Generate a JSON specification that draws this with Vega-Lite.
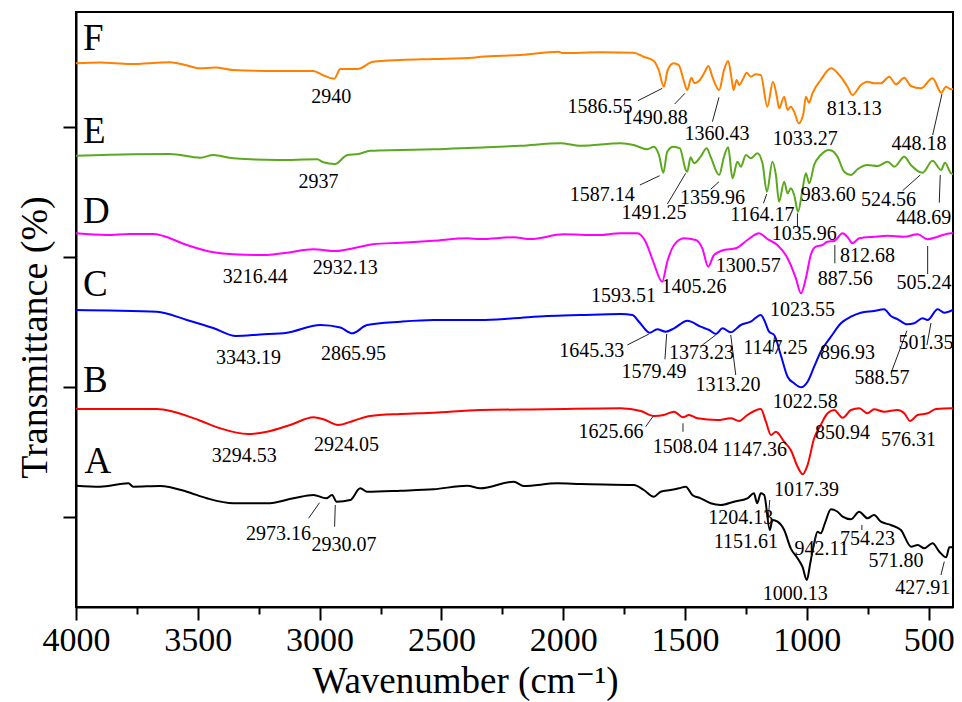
{
"$schema": "https://vega.github.io/schema/vega-lite/v6.json",
"autosize": {"type": "none"},
"padding": {"left": 76, "top": 12, "right": 9, "bottom": 95},
"width": 877,
"height": 595,
"background": "white",
"config": {"view": {"stroke": "black", "strokeWidth": 2}, "font": "'Liberation Serif', 'Times New Roman', 'DejaVu Serif', serif"},
"datasets": {
"spectra": [
{"s":"F","w":4000,"t":543.7},{"s":"F","w":3901,"t":544.5},{"s":"F","w":3778,"t":543},{"s":"F","w":3614,"t":544.7},{"s":"F","w":3552,"t":542},{"s":"F","w":3490,"t":538.7},{"s":"F","w":3429,"t":539.5},{"s":"F","w":3355,"t":537},{"s":"F","w":3174,"t":536},{"s":"F","w":3026,"t":536},{"s":"F","w":2985,"t":531.7},{"s":"F","w":2940,"t":528.3},{"s":"F","w":2915,"t":538},{"s":"F","w":2845,"t":538},{"s":"F","w":2780,"t":545.3},{"s":"F","w":2668,"t":547},{"s":"F","w":2533,"t":548},{"s":"F","w":2369,"t":549.3},{"s":"F","w":2340,"t":550.3},{"s":"F","w":2175,"t":552},{"s":"F","w":2019,"t":555.3},{"s":"F","w":2003,"t":554},{"s":"F","w":1847,"t":554.7},{"s":"F","w":1711,"t":554.3},{"s":"F","w":1670,"t":550.3},{"s":"F","w":1629,"t":546.3},{"s":"F","w":1608,"t":537},{"s":"F","w":1587,"t":520.3},{"s":"F","w":1571,"t":537},{"s":"F","w":1547,"t":543.7},{"s":"F","w":1526,"t":542},{"s":"F","w":1506,"t":527},{"s":"F","w":1491,"t":517},{"s":"F","w":1474,"t":529.3},{"s":"F","w":1461,"t":523.7},{"s":"F","w":1439,"t":527},{"s":"F","w":1422,"t":533.7},{"s":"F","w":1404,"t":541},{"s":"F","w":1388,"t":530.3},{"s":"F","w":1360,"t":517},{"s":"F","w":1340,"t":537},{"s":"F","w":1323,"t":546},{"s":"F","w":1308,"t":527},{"s":"F","w":1301,"t":517},{"s":"F","w":1288,"t":527},{"s":"F","w":1278,"t":522},{"s":"F","w":1264,"t":527},{"s":"F","w":1247,"t":534.3},{"s":"F","w":1230,"t":530.3},{"s":"F","w":1210,"t":532.7},{"s":"F","w":1189,"t":532},{"s":"F","w":1162,"t":500.3},{"s":"F","w":1139,"t":525.3},{"s":"F","w":1123,"t":510.3},{"s":"F","w":1114,"t":498.7},{"s":"F","w":1093,"t":510.3},{"s":"F","w":1079,"t":497},{"s":"F","w":1066,"t":500.3},{"s":"F","w":1052,"t":495.3},{"s":"F","w":1033,"t":483.7},{"s":"F","w":1014,"t":493.7},{"s":"F","w":1004,"t":510.3},{"s":"F","w":991,"t":504.3},{"s":"F","w":977,"t":513.7},{"s":"F","w":943,"t":527},{"s":"F","w":901,"t":538.7},{"s":"F","w":867,"t":532},{"s":"F","w":833,"t":520.3},{"s":"F","w":813,"t":512},{"s":"F","w":778,"t":522},{"s":"F","w":751,"t":525.3},{"s":"F","w":724,"t":523.7},{"s":"F","w":696,"t":523.7},{"s":"F","w":662,"t":530.3},{"s":"F","w":634,"t":522.7},{"s":"F","w":600,"t":529.3},{"s":"F","w":573,"t":521},{"s":"F","w":532,"t":518.7},{"s":"F","w":484,"t":528.7},{"s":"F","w":448,"t":514.3},{"s":"F","w":429,"t":520.3},{"s":"F","w":408,"t":517.7},{"s":"F","w":400,"t":518},
{"s":"E","w":4000,"t":451.3},{"s":"E","w":3766,"t":452.7},{"s":"E","w":3614,"t":453},{"s":"E","w":3490,"t":449.3},{"s":"E","w":3437,"t":452},{"s":"E","w":3355,"t":448.7},{"s":"E","w":3174,"t":447},{"s":"E","w":3010,"t":447.7},{"s":"E","w":2985,"t":444.7},{"s":"E","w":2937,"t":443},{"s":"E","w":2886,"t":452},{"s":"E","w":2841,"t":453},{"s":"E","w":2792,"t":456.3},{"s":"E","w":2668,"t":457},{"s":"E","w":2533,"t":457.7},{"s":"E","w":2369,"t":459.3},{"s":"E","w":2175,"t":461.3},{"s":"E","w":2011,"t":463.7},{"s":"E","w":1929,"t":461.3},{"s":"E","w":1764,"t":463.7},{"s":"E","w":1711,"t":462},{"s":"E","w":1655,"t":457.7},{"s":"E","w":1628,"t":460.3},{"s":"E","w":1607,"t":452},{"s":"E","w":1589,"t":434.3},{"s":"E","w":1573,"t":455.3},{"s":"E","w":1548,"t":460.3},{"s":"E","w":1521,"t":458.7},{"s":"E","w":1497,"t":437},{"s":"E","w":1491,"t":435.3},{"s":"E","w":1477,"t":449.7},{"s":"E","w":1463,"t":443.7},{"s":"E","w":1436,"t":450.3},{"s":"E","w":1411,"t":458.7},{"s":"E","w":1395,"t":450.3},{"s":"E","w":1360,"t":432},{"s":"E","w":1340,"t":450.3},{"s":"E","w":1323,"t":459.7},{"s":"E","w":1305,"t":428.7},{"s":"E","w":1285,"t":445.3},{"s":"E","w":1271,"t":440.3},{"s":"E","w":1250,"t":452},{"s":"E","w":1230,"t":448.7},{"s":"E","w":1203,"t":453.7},{"s":"E","w":1182,"t":443.7},{"s":"E","w":1164,"t":415.3},{"s":"E","w":1141,"t":445.3},{"s":"E","w":1127,"t":432},{"s":"E","w":1114,"t":405.3},{"s":"E","w":1093,"t":425.3},{"s":"E","w":1079,"t":413.7},{"s":"E","w":1066,"t":418.7},{"s":"E","w":1052,"t":412},{"s":"E","w":1036,"t":395.3},{"s":"E","w":1018,"t":417},{"s":"E","w":1004,"t":433.7},{"s":"E","w":990,"t":423.7},{"s":"E","w":970,"t":442},{"s":"E","w":943,"t":452},{"s":"E","w":908,"t":457},{"s":"E","w":874,"t":450.3},{"s":"E","w":847,"t":435.3},{"s":"E","w":819,"t":432},{"s":"E","w":792,"t":437.7},{"s":"E","w":751,"t":442},{"s":"E","w":710,"t":441},{"s":"E","w":668,"t":445.3},{"s":"E","w":641,"t":440.3},{"s":"E","w":600,"t":450.3},{"s":"E","w":573,"t":442},{"s":"E","w":525,"t":434.3},{"s":"E","w":484,"t":446.3},{"s":"E","w":449,"t":437},{"s":"E","w":433,"t":444.3},{"s":"E","w":408,"t":433.7},{"s":"E","w":400,"t":433},
{"s":"D","w":4000,"t":373.7},{"s":"D","w":3874,"t":372},{"s":"D","w":3778,"t":373},{"s":"D","w":3682,"t":373},{"s":"D","w":3642,"t":371},{"s":"D","w":3545,"t":362},{"s":"D","w":3436,"t":354.7},{"s":"D","w":3354,"t":352.7},{"s":"D","w":3216,"t":352},{"s":"D","w":3134,"t":354.3},{"s":"D","w":3026,"t":357.7},{"s":"D","w":2932,"t":356},{"s":"D","w":2862,"t":358.7},{"s":"D","w":2780,"t":362.7},{"s":"D","w":2668,"t":364.3},{"s":"D","w":2533,"t":366.3},{"s":"D","w":2394,"t":368.7},{"s":"D","w":2340,"t":368},{"s":"D","w":2204,"t":369.7},{"s":"D","w":2134,"t":368},{"s":"D","w":1999,"t":372.7},{"s":"D","w":1859,"t":372},{"s":"D","w":1764,"t":373.7},{"s":"D","w":1696,"t":373.7},{"s":"D","w":1662,"t":365.3},{"s":"D","w":1628,"t":343.7},{"s":"D","w":1594,"t":325.3},{"s":"D","w":1573,"t":345.3},{"s":"D","w":1545,"t":362},{"s":"D","w":1504,"t":368.7},{"s":"D","w":1456,"t":367},{"s":"D","w":1429,"t":358.7},{"s":"D","w":1405,"t":340.3},{"s":"D","w":1381,"t":352},{"s":"D","w":1340,"t":357},{"s":"D","w":1292,"t":358.7},{"s":"D","w":1244,"t":367},{"s":"D","w":1196,"t":373.7},{"s":"D","w":1162,"t":368},{"s":"D","w":1121,"t":362},{"s":"D","w":1079,"t":348.7},{"s":"D","w":1045,"t":328.7},{"s":"D","w":1024,"t":313.7},{"s":"D","w":1004,"t":328.7},{"s":"D","w":984,"t":352},{"s":"D","w":963,"t":360.3},{"s":"D","w":936,"t":362},{"s":"D","w":915,"t":365.3},{"s":"D","w":888,"t":366},{"s":"D","w":853,"t":373.7},{"s":"D","w":833,"t":370},{"s":"D","w":813,"t":363.7},{"s":"D","w":785,"t":368.7},{"s":"D","w":724,"t":370.3},{"s":"D","w":668,"t":371.3},{"s":"D","w":600,"t":370.3},{"s":"D","w":545,"t":372.7},{"s":"D","w":505,"t":367.7},{"s":"D","w":463,"t":370.3},{"s":"D","w":408,"t":373.7},{"s":"D","w":400,"t":373.7},
{"s":"C","w":4000,"t":297},{"s":"C","w":3860,"t":296.5},{"s":"C","w":3668,"t":295.3},{"s":"C","w":3545,"t":287},{"s":"C","w":3437,"t":279},{"s":"C","w":3343,"t":271},{"s":"C","w":3244,"t":272.5},{"s":"C","w":3134,"t":274.3},{"s":"C","w":2997,"t":282},{"s":"C","w":2915,"t":279.5},{"s":"C","w":2866,"t":273.7},{"s":"C","w":2805,"t":282},{"s":"C","w":2668,"t":285.3},{"s":"C","w":2533,"t":287},{"s":"C","w":2340,"t":287},{"s":"C","w":2204,"t":288.7},{"s":"C","w":2066,"t":291},{"s":"C","w":1929,"t":292},{"s":"C","w":1764,"t":293},{"s":"C","w":1716,"t":292},{"s":"C","w":1689,"t":285.3},{"s":"C","w":1645,"t":274.3},{"s":"C","w":1614,"t":277.7},{"s":"C","w":1579,"t":275.3},{"s":"C","w":1545,"t":278.7},{"s":"C","w":1490,"t":286.3},{"s":"C","w":1436,"t":280.3},{"s":"C","w":1401,"t":277},{"s":"C","w":1373,"t":273},{"s":"C","w":1346,"t":278.7},{"s":"C","w":1313,"t":274.7},{"s":"C","w":1271,"t":282},{"s":"C","w":1230,"t":285.3},{"s":"C","w":1189,"t":292},{"s":"C","w":1175,"t":287},{"s":"C","w":1155,"t":275.3},{"s":"C","w":1134,"t":272},{"s":"C","w":1107,"t":252},{"s":"C","w":1079,"t":230.3},{"s":"C","w":1052,"t":223.7},{"s":"C","w":1023,"t":219.7},{"s":"C","w":997,"t":225.3},{"s":"C","w":970,"t":240.3},{"s":"C","w":943,"t":255.3},{"s":"C","w":901,"t":270.3},{"s":"C","w":860,"t":283.7},{"s":"C","w":819,"t":290.3},{"s":"C","w":778,"t":294.3},{"s":"C","w":724,"t":296},{"s":"C","w":683,"t":297.7},{"s":"C","w":655,"t":291},{"s":"C","w":627,"t":287.7},{"s":"C","w":589,"t":282.7},{"s":"C","w":559,"t":283.7},{"s":"C","w":525,"t":288.7},{"s":"C","w":504,"t":287},{"s":"C","w":463,"t":297.7},{"s":"C","w":436,"t":294.3},{"s":"C","w":401,"t":297},
{"s":"B","w":4000,"t":198},{"s":"B","w":3668,"t":198},{"s":"B","w":3600,"t":195.3},{"s":"B","w":3490,"t":186.3},{"s":"B","w":3408,"t":178.7},{"s":"B","w":3294,"t":173},{"s":"B","w":3216,"t":175.3},{"s":"B","w":3121,"t":182},{"s":"B","w":3025,"t":189.7},{"s":"B","w":2984,"t":187.7},{"s":"B","w":2924,"t":182},{"s":"B","w":2860,"t":186.3},{"s":"B","w":2792,"t":191},{"s":"B","w":2668,"t":193},{"s":"B","w":2532,"t":194.3},{"s":"B","w":2340,"t":197},{"s":"B","w":2066,"t":197.7},{"s":"B","w":1764,"t":198.7},{"s":"B","w":1682,"t":196},{"s":"B","w":1626,"t":191},{"s":"B","w":1587,"t":192},{"s":"B","w":1545,"t":195.3},{"s":"B","w":1508,"t":189.7},{"s":"B","w":1484,"t":192},{"s":"B","w":1449,"t":188.7},{"s":"B","w":1367,"t":187},{"s":"B","w":1312,"t":188.7},{"s":"B","w":1278,"t":186},{"s":"B","w":1244,"t":192},{"s":"B","w":1189,"t":198},{"s":"B","w":1168,"t":185.3},{"s":"B","w":1147,"t":172},{"s":"B","w":1127,"t":175.3},{"s":"B","w":1093,"t":165.3},{"s":"B","w":1066,"t":157},{"s":"B","w":1038,"t":140.3},{"s":"B","w":1017,"t":132.7},{"s":"B","w":997,"t":142},{"s":"B","w":970,"t":168.7},{"s":"B","w":943,"t":182},{"s":"B","w":915,"t":193.7},{"s":"B","w":888,"t":197},{"s":"B","w":853,"t":189.3},{"s":"B","w":819,"t":197},{"s":"B","w":785,"t":198.7},{"s":"B","w":751,"t":193.7},{"s":"B","w":724,"t":197.7},{"s":"B","w":683,"t":195.3},{"s":"B","w":627,"t":197},{"s":"B","w":600,"t":193.7},{"s":"B","w":576,"t":186},{"s":"B","w":545,"t":192},{"s":"B","w":504,"t":193.7},{"s":"B","w":470,"t":198},{"s":"B","w":408,"t":198.7},{"s":"B","w":400,"t":198.7},
{"s":"A","w":4000,"t":121.3},{"s":"A","w":3901,"t":120.3},{"s":"A","w":3785,"t":123.7},{"s":"A","w":3765,"t":120.3},{"s":"A","w":3655,"t":121},{"s":"A","w":3545,"t":115.3},{"s":"A","w":3463,"t":108.7},{"s":"A","w":3354,"t":103.7},{"s":"A","w":3216,"t":103.7},{"s":"A","w":3107,"t":108.7},{"s":"A","w":3025,"t":112},{"s":"A","w":2973,"t":108.7},{"s":"A","w":2949,"t":112},{"s":"A","w":2930,"t":105.3},{"s":"A","w":2874,"t":107},{"s":"A","w":2833,"t":118.7},{"s":"A","w":2805,"t":115.3},{"s":"A","w":2668,"t":116.3},{"s":"A","w":2532,"t":117.7},{"s":"A","w":2394,"t":121.3},{"s":"A","w":2340,"t":118.7},{"s":"A","w":2203,"t":125.3},{"s":"A","w":2162,"t":121},{"s":"A","w":2025,"t":123.7},{"s":"A","w":1929,"t":123},{"s":"A","w":1710,"t":122},{"s":"A","w":1669,"t":117},{"s":"A","w":1628,"t":110.3},{"s":"A","w":1600,"t":115.3},{"s":"A","w":1559,"t":117},{"s":"A","w":1525,"t":118.7},{"s":"A","w":1497,"t":120.3},{"s":"A","w":1470,"t":112},{"s":"A","w":1436,"t":108.7},{"s":"A","w":1395,"t":103.7},{"s":"A","w":1353,"t":102},{"s":"A","w":1299,"t":105.3},{"s":"A","w":1244,"t":108.7},{"s":"A","w":1217,"t":113.7},{"s":"A","w":1204,"t":103.7},{"s":"A","w":1189,"t":113.7},{"s":"A","w":1175,"t":112},{"s":"A","w":1152,"t":77},{"s":"A","w":1141,"t":87},{"s":"A","w":1120,"t":85.3},{"s":"A","w":1093,"t":77},{"s":"A","w":1066,"t":58.7},{"s":"A","w":1038,"t":48.7},{"s":"A","w":1018,"t":40.3},{"s":"A","w":1000,"t":27},{"s":"A","w":986,"t":43.7},{"s":"A","w":970,"t":63.7},{"s":"A","w":956,"t":75.3},{"s":"A","w":943,"t":73.7},{"s":"A","w":926,"t":83.7},{"s":"A","w":901,"t":97.7},{"s":"A","w":874,"t":95.3},{"s":"A","w":853,"t":90.3},{"s":"A","w":819,"t":87.7},{"s":"A","w":785,"t":95.3},{"s":"A","w":751,"t":88.7},{"s":"A","w":724,"t":92},{"s":"A","w":696,"t":85.3},{"s":"A","w":655,"t":82},{"s":"A","w":614,"t":77},{"s":"A","w":572,"t":60.3},{"s":"A","w":545,"t":62},{"s":"A","w":518,"t":58.7},{"s":"A","w":484,"t":63.7},{"s":"A","w":456,"t":55.3},{"s":"A","w":428,"t":49.7},{"s":"A","w":415,"t":59.7},{"s":"A","w":400,"t":59.7}
],
"letters": [
{"label":"F","w":3971,"t":557},{"label":"E","w":3971,"t":464},{"label":"D","w":3971,"t":384},{"label":"C","w":3971,"t":311},{"label":"B","w":3971,"t":215},{"label":"A","w":3965,"t":134}
],
"peaks": [
{"label":"2940","w":2952,"t":510.3},{"label":"1586.55","w":1849.5,"t":500.3},{"label":"1490.88","w":1622.7,"t":489},{"label":"1360.43","w":1368.7,"t":473.3},{"label":"1033.27","w":1006.2,"t":468.5},{"label":"813.13","w":805.6,"t":498},{"label":"448.18","w":539.8,"t":463},
{"label":"2937","w":3004.3,"t":425.3},{"label":"1587.14","w":1839.7,"t":412},{"label":"1491.25","w":1627.5,"t":393.7},{"label":"1359.96","w":1387.6,"t":409.5},{"label":"1164.17","w":1182.2,"t":392},{"label":"1035.96","w":1011.1,"t":373},{"label":"983.60","w":911.7,"t":412.3},{"label":"524.56","w":664.3,"t":407.5},{"label":"448.69","w":520.5,"t":389.5},
{"label":"3216.44","w":3264.4,"t":330},{"label":"2932.13","w":2894.5,"t":338.7},{"label":"1593.51","w":1752.1,"t":311},{"label":"1405.26","w":1463.2,"t":320},{"label":"1300.57","w":1240.5,"t":341},{"label":"1023.55","w":1017.7,"t":297.5},{"label":"887.56","w":842.7,"t":328},{"label":"812.68","w":750.6,"t":351.2},{"label":"505.24","w":519.3,"t":324.5},
{"label":"3343.19","w":3291.9,"t":249.5},{"label":"2865.95","w":2860.4,"t":253},{"label":"1645.33","w":1882.8,"t":255.7},{"label":"1579.49","w":1627.5,"t":235},{"label":"1373.23","w":1432.4,"t":254.2},{"label":"1313.20","w":1323.5,"t":222},{"label":"1147.25","w":1129.5,"t":259},{"label":"1022.58","w":1006.2,"t":205.3},{"label":"896.93","w":832.9,"t":254.2},{"label":"588.57","w":691.9,"t":229},{"label":"501.35","w":511,"t":264.2},
{"label":"3294.53","w":3309.6,"t":151.2},{"label":"2924.05","w":2889.2,"t":162},{"label":"1625.66","w":1804.3,"t":175},{"label":"1508.04","w":1499.4,"t":160},{"label":"1147.36","w":1213.8,"t":157.5},{"label":"1017.39","w":1000.9,"t":117.5},{"label":"850.94","w":853.4,"t":174.5},{"label":"576.31","w":582.9,"t":167},
{"label":"2973.16","w":3168.6,"t":73},{"label":"2930.07","w":2900,"t":62},{"label":"1204.13","w":1271.3,"t":89.5},{"label":"1151.61","w":1250.7,"t":65},{"label":"942.11","w":939.2,"t":58},{"label":"754.23","w":750.6,"t":68},{"label":"571.80","w":634.3,"t":46.5},{"label":"1000.13","w":1047.3,"t":13},{"label":"427.91","w":524.6,"t":19}
],
"leaders": [
{"w":1693.3,"t":506.3,"w2":1593.1,"t2":518.7},{"w":1542.5,"t":503,"w2":1500.1,"t2":513.7},{"w":1387.6,"t":485.3,"w2":1360.5,"t2":509.7},{"w":483.5,"t":472,"w2":445.3,"t2":513},
{"w":1685.2,"t":422,"w2":1604.2,"t2":431.3},{"w":1572.4,"t":403,"w2":1497.3,"t2":433.7},{"w":1394.6,"t":417.7,"w2":1360.5,"t2":425.3},{"w":1178.1,"t":403.7,"w2":1164.5,"t2":413},{"w":1038.5,"t":379.7,"w2":1038.5,"t2":393.7},{"w":606.8,"t":416.3,"w2":534.5,"t2":432},{"w":456.4,"t":404.3,"w2":452.3,"t2":432},
{"w":885,"t":343.7,"w2":885,"t2":362},{"w":504,"t":333,"w2":504,"t2":361},
{"w":1737,"t":262,"w2":1648.1,"t2":273},{"w":1582.4,"t":247.7,"w2":1575.4,"t2":273},{"w":1428.7,"t":262,"w2":1374,"t2":272},{"w":1291.7,"t":232,"w2":1312.3,"t2":272},{"w":1140,"t":255,"w2":1133,"t2":270},{"w":945.4,"t":253.7,"w2":915,"t2":265.3},{"w":654.9,"t":233.7,"w2":589.1,"t2":276.3},{"w":506.9,"t":262,"w2":490.4,"t2":284},
{"w":1661.7,"t":180.3,"w2":1630,"t2":191},{"w":1508.4,"t":175.3,"w2":1508.4,"t2":183.7},
{"w":3045.4,"t":88.7,"w2":3000.2,"t2":104.3},{"w":2938.5,"t":80.3,"w2":2935.7,"t2":102},{"w":1160.3,"t":84,"w2":1152.1,"t2":107},{"w":979.5,"t":51,"w2":963.1,"t2":70},{"w":774,"t":77,"w2":774,"t2":82},{"w":449.4,"t":32,"w2":435.8,"t2":45.3}
]
},
"layer": [
{
"data": {"name": "spectra"},
"mark": {"type": "line", "strokeWidth": 2, "clip": true, "interpolate": "monotone"},
"encoding": {
"x": {"field": "w", "type": "quantitative", "sort": null,
"scale": {"domain": [400, 4000], "reverse": true, "nice": false, "zero": false},
"axis": {"values": [500,750,1000,1250,1500,1750,2000,2250,2500,2750,3000,3250,3500,3750,4000],
"format": "d", "labelExpr": "datum.value % 500 === 0 ? datum.label : ''",
"grid": false, "domainColor": "black", "domainWidth": 2, "tickColor": "black", "tickWidth": 2,
"tickSize": {"condition": {"test": "datum.value % 500 === 0", "value": 13}, "value": 7},
"labelFont": "'Liberation Serif', 'Times New Roman', 'DejaVu Serif', serif", "labelFontSize": 34, "labelColor": "black", "labelPadding": 3, "labelFlush": false,
"title": "Wavenumber (cm⁻¹)", "titleFont": "'Liberation Serif', 'Times New Roman', 'DejaVu Serif', serif", "titleFontSize": 37, "titleFontWeight": "normal", "titleColor": "black",
"titleX": 389, "titleY": 85, "titleBaseline": "alphabetic", "titleAnchor": "middle", "titleAlign": "center"}},
"y": {"field": "t", "type": "quantitative",
"scale": {"domain": [0, 595], "nice": false, "zero": false},
"axis": {"values": [90, 220, 350, 480], "labels": false, "grid": false,
"domainColor": "black", "domainWidth": 2, "tickColor": "black", "tickWidth": 2, "tickSize": 13,
"title": "Transmittance (%)", "titleFont": "'Liberation Serif', 'Times New Roman', 'DejaVu Serif', serif", "titleFontSize": 38, "titleFontWeight": "normal", "titleColor": "black",
"titleX": -41, "titleY": 325, "titleAngle": -90, "titleBaseline": "middle", "titleAlign": "center"}},
"color": {"field": "s", "type": "nominal", "legend": null,
"scale": {"domain": ["A","B","C","D","E","F"], "range": ["#000000","#FF0000","#0000FF","#FF00FF","#5CA81E","#FF8000"]}},
"detail": {"field": "s"}
}
},
{
"data": {"name": "leaders"},
"mark": {"type": "rule", "color": "#222222", "strokeWidth": 1},
"encoding": {
"x": {"field": "w", "type": "quantitative"},
"y": {"field": "t", "type": "quantitative"},
"x2": {"field": "w2"},
"y2": {"field": "t2"}
}
},
{
"data": {"name": "peaks"},
"mark": {"type": "text", "font": "'Liberation Serif', 'Times New Roman', 'DejaVu Serif', serif", "fontSize": 20, "align": "center", "baseline": "middle", "color": "black"},
"encoding": {
"x": {"field": "w", "type": "quantitative"},
"y": {"field": "t", "type": "quantitative"},
"text": {"field": "label"}
}
},
{
"data": {"name": "letters"},
"mark": {"type": "text", "font": "'Liberation Serif', 'Times New Roman', 'DejaVu Serif', serif", "fontSize": 37, "align": "left", "baseline": "alphabetic", "color": "black"},
"encoding": {
"x": {"field": "w", "type": "quantitative"},
"y": {"field": "t", "type": "quantitative"},
"text": {"field": "label"}
}
}
]
}
